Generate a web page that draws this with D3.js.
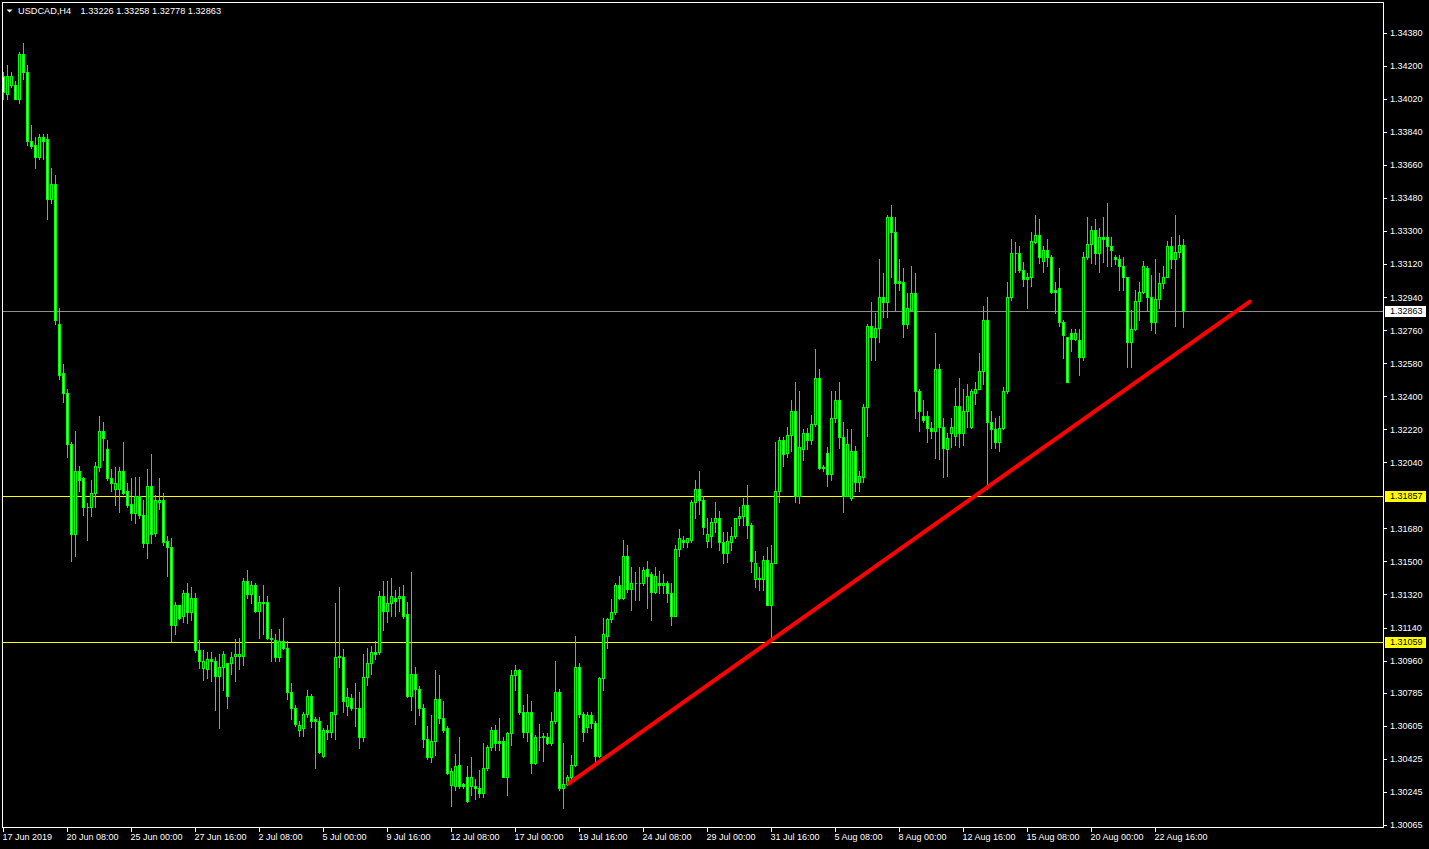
<!DOCTYPE html>
<html><head><meta charset="utf-8">
<script src="https://cdn.jsdelivr.net/npm/d3@7"></script>
<style>
html,body{margin:0;padding:0;background:#000;overflow:hidden}
svg{display:block}
</style>
</head><body>
<svg id="chart" width="1429" height="849"></svg>
<script>
const symbolName = "USDCAD,H4";

const open = [1.34142,1.34049,1.34098,1.34098,1.34022,1.34262,1.34169,1.33793,1.33771,1.33701,1.33815,1.33799,1.33477,1.33554,1.32796,1.32524,1.32420,1.32142,1.31652,1.31995,
1.31952,1.31799,1.31799,1.31875,1.32017,1.32213,1.32110,1.31957,1.31897,1.31897,1.31995,1.31881,1.31815,1.31766,1.31854,1.31755,1.31598,1.31913,1.31657,1.31826,
1.31837,1.31614,1.31576,1.31156,1.31260,1.31200,1.31330,1.31227,1.31303,1.31020,1.30922,1.30916,1.30971,1.30960,1.30878,1.30927,1.30944,1.30944,1.30987,1.30987,
1.30987,1.31396,1.31325,1.31369,1.31232,1.31281,1.31281,1.31085,1.31074,1.30982,1.31064,1.31031,1.30791,1.30704,1.30584,1.30590,1.30671,1.30769,1.30639,1.30633,
1.30442,1.30584,1.30573,1.30671,1.30987,1.30982,1.30715,1.30758,1.30704,1.30699,1.30546,1.30873,1.30944,1.31004,1.31004,1.31314,1.31232,1.31271,1.31303,1.31303,
1.31314,1.31211,1.30769,1.30889,1.30807,1.30704,1.30535,1.30432,1.30524,1.30748,1.30649,1.30590,1.30284,1.30279,1.30393,1.30290,1.30328,1.30279,1.30279,1.30268,
1.30241,1.30377,1.30491,1.30579,1.30524,1.30524,1.30328,1.30568,1.30884,1.30911,1.30682,1.30573,1.30682,1.30404,1.30541,1.30541,1.30541,1.30513,1.30628,1.30791,
1.30263,1.30290,1.30328,1.30393,1.30927,1.30671,1.30600,1.30666,1.30622,1.30442,1.30867,1.31096,1.31189,1.31222,1.31374,1.31303,1.31527,1.31352,1.31380,1.31380,
1.31380,1.31461,1.31429,1.31336,1.31380,1.31374,1.31380,1.31330,1.31205,1.31570,1.31619,1.31608,1.31619,1.31826,1.31897,1.31832,1.31614,1.31641,1.31717,1.31739,
1.31608,1.31548,1.31608,1.31636,1.31734,1.31750,1.31810,1.31701,1.31407,1.31412,1.31407,1.31510,1.31265,1.31494,1.31881,1.32164,1.32093,1.32191,1.32317,1.31854,
1.32115,1.32202,1.32159,1.32251,1.32502,1.32011,1.32093,1.31979,1.32284,1.32382,1.32180,1.31859,1.31843,1.32099,1.31935,1.31962,1.32344,1.32780,1.32720,1.32774,
1.32943,1.32911,1.33379,1.33297,1.33030,1.33025,1.32796,1.32872,1.32965,1.32431,1.32295,1.32295,1.32229,1.32213,1.32546,1.32235,1.32115,1.32202,1.32186,1.32349,
1.32202,1.32317,1.32235,1.32420,1.32442,1.32535,1.32818,1.32262,1.32219,1.32148,1.32229,1.32426,1.32938,1.33178,1.33183,1.33090,1.33041,1.33052,1.33243,1.33281,
1.33139,1.33194,1.33156,1.32981,1.32987,1.32802,1.32720,1.32742,1.32714,1.32709,1.32616,1.33156,1.33227,1.33303,1.33178,1.33265,1.33265,1.33221,1.33156,1.33150,
1.33107,1.33047,1.32693,1.32769,1.32921,1.32970,1.33101,1.32943,1.32807,1.32932,1.33019,1.33052,1.33221,1.33150,1.33188,1.33226];

const high = [1.34169,1.34202,1.34169,1.34115,1.34273,1.34327,1.34202,1.33880,1.33810,1.33826,1.33826,1.33831,1.33641,1.33608,1.32878,1.32573,1.32437,1.32148,1.32208,1.32022,
1.31962,1.31821,1.31946,1.32044,1.32295,1.32257,1.32164,1.32001,1.32017,1.32017,1.32148,1.31930,1.31952,1.31962,1.31962,1.31837,1.32006,1.32088,1.31864,1.31957,
1.31875,1.31636,1.31625,1.31281,1.31265,1.31347,1.31380,1.31358,1.31330,1.31074,1.31020,1.31009,1.31009,1.30982,1.30993,1.31014,1.30949,1.31004,1.31080,1.31085,
1.31412,1.31456,1.31396,1.31380,1.31309,1.31374,1.31314,1.31134,1.31107,1.31134,1.31194,1.31069,1.30840,1.30720,1.30633,1.30682,1.30797,1.30780,1.30655,1.30655,
1.30590,1.30611,1.30682,1.31276,1.31363,1.31025,1.30813,1.30780,1.30835,1.30791,1.30993,1.31031,1.31042,1.31069,1.31341,1.31396,1.31396,1.31412,1.31347,1.31358,
1.31374,1.31281,1.31440,1.30927,1.30824,1.30726,1.30606,1.30666,1.30911,1.30884,1.30737,1.30606,1.30377,1.30453,1.30546,1.30295,1.30388,1.30432,1.30317,1.30366,
1.30513,1.30502,1.30600,1.30611,1.30649,1.30546,1.30573,1.30911,1.30938,1.30916,1.30720,1.30780,1.30737,1.30557,1.30617,1.30568,1.30568,1.30677,1.30955,1.30807,
1.30513,1.30339,1.30448,1.31096,1.30949,1.30677,1.30677,1.30677,1.30628,1.30873,1.31194,1.31194,1.31298,1.31380,1.31418,1.31619,1.31592,1.31467,1.31440,1.31467,
1.31467,1.31505,1.31445,1.31472,1.31450,1.31429,1.31396,1.31385,1.31587,1.31674,1.31636,1.31630,1.31837,1.31941,1.31995,1.31859,1.31739,1.31739,1.31826,1.31777,
1.31663,1.31663,1.31690,1.31739,1.31794,1.31848,1.31919,1.31712,1.31559,1.31472,1.31527,1.31576,1.31592,1.32148,1.32180,1.32180,1.32235,1.32377,1.32475,1.32431,
1.32224,1.32229,1.32300,1.32660,1.32551,1.32028,1.32126,1.32426,1.32426,1.32475,1.32262,1.32219,1.32224,1.32131,1.31990,1.32360,1.32791,1.32916,1.32856,1.33145,
1.33074,1.33385,1.33444,1.33374,1.33145,1.33101,1.32965,1.33112,1.33074,1.32437,1.32382,1.32322,1.32262,1.32747,1.32573,1.32279,1.32197,1.32279,1.32447,1.32502,
1.32442,1.32464,1.32437,1.32475,1.32638,1.32894,1.32938,1.32317,1.32279,1.32295,1.32453,1.33025,1.33259,1.33243,1.33221,1.33134,1.33074,1.33297,1.33390,1.33363,
1.33216,1.33254,1.33167,1.33025,1.33096,1.32818,1.32725,1.32769,1.32769,1.32769,1.33188,1.33374,1.33330,1.33363,1.33319,1.33379,1.33455,1.33265,1.33172,1.33167,
1.33161,1.33052,1.32872,1.32981,1.33025,1.33139,1.33112,1.33058,1.33150,1.33074,1.33112,1.33248,1.33265,1.33390,1.33281,1.33258];

const low = [1.34017,1.34022,1.34082,1.34017,1.34000,1.34126,1.33771,1.33750,1.33641,1.33690,1.33695,1.33368,1.33455,1.32791,1.32496,1.32366,1.32071,1.31505,1.31532,1.31881,
1.31755,1.31619,1.31745,1.31799,1.31990,1.32050,1.31946,1.31881,1.31810,1.31772,1.31870,1.31799,1.31728,1.31712,1.31739,1.31576,1.31521,1.31603,1.31636,1.31783,
1.31592,1.31418,1.31064,1.31102,1.31189,1.31172,1.31167,1.31183,1.31009,1.30922,1.30856,1.30867,1.30846,1.30693,1.30595,1.30797,1.30699,1.30889,1.30851,1.30916,
1.30938,1.31303,1.31271,1.31227,1.31085,1.31107,1.31080,1.30960,1.30960,1.30955,1.31025,1.30753,1.30644,1.30606,1.30551,1.30551,1.30655,1.30600,1.30377,1.30459,
1.30437,1.30535,1.30546,1.30535,1.30927,1.30677,1.30666,1.30693,1.30606,1.30486,1.30524,1.30829,1.30889,1.30971,1.30998,1.31129,1.31172,1.31205,1.31200,1.31232,
1.31194,1.30764,1.30693,1.30617,1.30666,1.30491,1.30426,1.30410,1.30448,1.30622,1.30573,1.30344,1.30170,1.30257,1.30268,1.30268,1.30192,1.30230,1.30208,1.30214,
1.30214,1.30366,1.30475,1.30475,1.30475,1.30323,1.30225,1.30502,1.30802,1.30671,1.30546,1.30519,1.30350,1.30399,1.30470,1.30415,1.30508,1.30502,1.30622,1.30257,
1.30159,1.30284,1.30312,1.30388,1.30655,1.30524,1.30573,1.30595,1.30404,1.30437,1.30802,1.31031,1.31172,1.31216,1.31298,1.31298,1.31336,1.31238,1.31292,1.31292,
1.31374,1.31249,1.31183,1.31330,1.31330,1.31330,1.31281,1.31151,1.31200,1.31527,1.31581,1.31581,1.31608,1.31734,1.31761,1.31652,1.31581,1.31581,1.31663,1.31565,
1.31494,1.31499,1.31565,1.31630,1.31701,1.31701,1.31630,1.31440,1.31358,1.31347,1.31347,1.31260,1.31074,1.31489,1.31826,1.32022,1.32071,1.32099,1.31826,1.31821,
1.32055,1.32110,1.32142,1.32240,1.32006,1.31995,1.31913,1.31946,1.32257,1.32120,1.31772,1.31854,1.31837,1.31881,1.31886,1.31935,1.32186,1.32595,1.32595,1.32693,
1.32829,1.32829,1.33047,1.32862,1.32981,1.32725,1.32774,1.32862,1.32284,1.32208,1.32257,1.32148,1.32175,1.32066,1.32060,1.31962,1.31968,1.32126,1.32137,1.32126,
1.32137,1.32235,1.32229,1.32355,1.32437,1.32464,1.31892,1.32120,1.32120,1.32104,1.32224,1.32420,1.32927,1.33079,1.33079,1.33003,1.32883,1.33003,1.33237,1.33128,
1.33079,1.33107,1.32965,1.32856,1.32780,1.32611,1.32475,1.32644,1.32709,1.32518,1.32595,1.33150,1.33128,1.33123,1.33079,1.33134,1.33107,1.33107,1.33118,1.32981,
1.32981,1.32562,1.32562,1.32763,1.32818,1.32965,1.32867,1.32763,1.32747,1.32883,1.32992,1.33047,1.33101,1.32780,1.33156,1.32778];

const close = [1.34055,1.34147,1.34142,1.34022,1.34262,1.34169,1.33788,1.33766,1.33701,1.33815,1.33793,1.33477,1.33554,1.32813,1.32513,1.32420,1.32142,1.31652,1.31995,1.31941,
1.31794,1.31794,1.31875,1.32022,1.32213,1.32175,1.31957,1.31930,1.31930,1.31995,1.31875,1.31810,1.31766,1.31854,1.31755,1.31598,1.31913,1.31647,1.31832,1.31837,
1.31608,1.31576,1.31156,1.31265,1.31194,1.31330,1.31227,1.31303,1.31020,1.30960,1.30955,1.30971,1.30960,1.30878,1.30927,1.30998,1.30769,1.30982,1.30993,1.30993,
1.31396,1.31325,1.31369,1.31232,1.31281,1.31276,1.31085,1.31080,1.30982,1.31064,1.31031,1.30791,1.30704,1.30617,1.30611,1.30671,1.30769,1.30628,1.30628,1.30464,
1.30579,1.30573,1.30677,1.30982,1.30982,1.30737,1.30764,1.30704,1.30699,1.30546,1.30873,1.30944,1.31004,1.30998,1.31314,1.31232,1.31271,1.31309,1.31287,1.31314,
1.31205,1.30769,1.30889,1.30807,1.30704,1.30535,1.30432,1.30524,1.30748,1.30649,1.30584,1.30350,1.30361,1.30388,1.30274,1.30274,1.30197,1.30328,1.30263,1.30241,
1.30377,1.30491,1.30579,1.30513,1.30513,1.30328,1.30568,1.30884,1.30911,1.30677,1.30573,1.30682,1.30404,1.30541,1.30546,1.30551,1.30513,1.30628,1.30791,1.30263,
1.30290,1.30328,1.30393,1.30927,1.30671,1.30573,1.30666,1.30622,1.30442,1.30867,1.31102,1.31189,1.31222,1.31374,1.31303,1.31527,1.31352,1.31380,1.31385,1.31385,
1.31456,1.31423,1.31336,1.31423,1.31374,1.31380,1.31330,1.31205,1.31570,1.31625,1.31608,1.31625,1.31826,1.31897,1.31832,1.31690,1.31647,1.31717,1.31739,1.31608,
1.31548,1.31614,1.31641,1.31734,1.31750,1.31810,1.31696,1.31505,1.31489,1.31407,1.31510,1.31265,1.31494,1.31881,1.32164,1.32088,1.32191,1.32317,1.31854,1.32126,
1.32202,1.32159,1.32251,1.32502,1.32011,1.32017,1.31979,1.32284,1.32382,1.32180,1.31859,1.32142,1.32099,1.31935,1.31968,1.32344,1.32780,1.32725,1.32774,1.32943,
1.32911,1.33379,1.33297,1.33019,1.33019,1.32796,1.32878,1.32965,1.32426,1.32322,1.32273,1.32229,1.32213,1.32546,1.32235,1.32120,1.32175,1.32235,1.32349,1.32202,
1.32317,1.32404,1.32426,1.32442,1.32540,1.32818,1.32262,1.32224,1.32148,1.32229,1.32426,1.32938,1.33178,1.33183,1.33090,1.33041,1.33052,1.33248,1.33281,1.33156,
1.33194,1.33156,1.32970,1.32970,1.32802,1.32731,1.32480,1.32714,1.32742,1.32616,1.33156,1.33227,1.33303,1.33178,1.33265,1.33259,1.33221,1.33194,1.33145,1.33107,
1.33047,1.32693,1.32769,1.32921,1.32970,1.33107,1.32943,1.32807,1.32932,1.33019,1.33052,1.33221,1.33150,1.33188,1.33226,1.32863];

const timeLabels = ["17 Jun 2019","20 Jun 08:00","25 Jun 00:00","27 Jun 16:00","2 Jul 08:00","5 Jul 00:00","9 Jul 16:00","12 Jul 08:00","17 Jul 00:00","19 Jul 16:00","24 Jul 08:00","29 Jul 00:00","31 Jul 16:00","5 Aug 08:00","8 Aug 00:00","12 Aug 16:00","15 Aug 08:00","20 Aug 00:00","22 Aug 16:00"];
const timeLabelBars = [0,16,32,48,64,80,96,112,128,144,160,176,192,208,224,240,256,272,288];

const priceTicks = [1.34380,1.34200,1.34020,1.33840,1.33660,1.33480,1.33300,1.33120,1.32940,1.32760,1.32580,1.32400,1.32220,1.32040,1.31680,1.31500,1.31320,1.31140,1.30960,1.30785,1.30605,1.30425,1.30245,1.30065];

const levelPrices = [1.31857, 1.31059];
const bidPrice = 1.32863;
const trendBars = [141.4, 311.7];
const trendPrices = [1.30290, 1.32916];

// ---------- layout ----------
const W = 1429, H = 849;
const frame = {left: 2.5, top: 2.5, right: 1383.5, bottom: 827.5};
const totalSlots = 345;

const svg = d3.select("#chart");
svg.append("rect").attr("width", W).attr("height", H).attr("fill", "#000");

const x = d3.scaleLinear().domain([0, totalSlots]).range([3, 3 + 4 * totalSlots]);
const y = d3.scaleLinear().domain([1.30063, 1.34380]).range([825.2, 32.8]);

svg.append("defs").append("clipPath").attr("id", "plotclip")
  .append("rect").attr("x", 3).attr("y", 3).attr("width", 1380).attr("height", 824);

const plot = svg.append("g").attr("clip-path", "url(#plotclip)");

const bars = d3.range(open.length).map(i => ({i, o: open[i], h: high[i], l: low[i], c: close[i]}));
const green = "#00ff00";

// horizontal level lines
plot.selectAll("line.level").data(levelPrices).join("line")
  .attr("class", "level")
  .attr("x1", frame.left).attr("x2", frame.right)
  .attr("y1", d => Math.round(y(d)) + 0.5).attr("y2", d => Math.round(y(d)) + 0.5)
  .attr("stroke", "#ffff00").attr("stroke-width", 1).attr("shape-rendering", "crispEdges");

plot.append("line")
  .attr("x1", frame.left).attr("x2", frame.right)
  .attr("y1", Math.round(y(bidPrice)) + 0.5).attr("y2", Math.round(y(bidPrice)) + 0.5)
  .attr("stroke", "#8f8f8f").attr("stroke-width", 1).attr("shape-rendering", "crispEdges");

// wicks
plot.selectAll("line.wick").data(bars).join("line")
  .attr("class", "wick")
  .attr("x1", d => Math.round(x(d.i)) + 0.5).attr("x2", d => Math.round(x(d.i)) + 0.5)
  .attr("y1", d => Math.round(y(Math.max(d.h, d.o, d.c))))
  .attr("y2", d => Math.round(y(Math.min(d.l, d.o, d.c))) + 1)
  .attr("stroke", green).attr("stroke-width", 1).attr("shape-rendering", "crispEdges");

// bodies
plot.selectAll("path.body").data(bars).join("path")
  .attr("class", "body")
  .attr("d", d => {
    const cx = Math.round(x(d.i)) + 0.5;
    const t = Math.round(y(Math.max(d.o, d.c))) + 0.5;
    const b = Math.round(y(Math.min(d.o, d.c))) + 0.5;
    return `M${cx - 1},${t}H${cx + 1}V${b}H${cx - 1}Z`;
  })
  .attr("fill", d => d.c > d.o ? "#000" : "#fff")
  .attr("stroke", green).attr("stroke-width", 1).attr("shape-rendering", "crispEdges");

// trend line
plot.append("line")
  .attr("x1", x(trendBars[0])).attr("y1", y(trendPrices[0]))
  .attr("x2", x(trendBars[1])).attr("y2", y(trendPrices[1]))
  .attr("stroke", "#ff0000").attr("stroke-width", 4).attr("stroke-linecap", "round");

// frame
svg.append("rect")
  .attr("x", frame.left).attr("y", frame.top)
  .attr("width", frame.right - frame.left).attr("height", frame.bottom - frame.top)
  .attr("fill", "none").attr("stroke", "#fff").attr("stroke-width", 1).attr("shape-rendering", "crispEdges");

const FONT = '"Liberation Sans", Arial, sans-serif';

// right price axis
const yAxis = d3.axisRight(y).tickValues(priceTicks).tickFormat(d3.format(".5f")).tickSize(3).tickPadding(3);
const ya = svg.append("g").attr("transform", "translate(1384,0)").call(yAxis);
ya.select(".domain").remove();
ya.attr("font-family", FONT).attr("font-size", 9);
ya.selectAll("line").attr("stroke", "#fff").attr("shape-rendering", "crispEdges");
ya.selectAll("text").attr("fill", "#fff");

// bottom time axis
const xAxis = d3.axisBottom(x).tickValues(timeLabelBars).tickFormat((d, k) => timeLabels[k]).tickSize(4).tickPadding(2);
const xa = svg.append("g").attr("transform", "translate(0,828)").call(xAxis);
xa.select(".domain").remove();
xa.attr("font-family", FONT).attr("font-size", 9);
xa.selectAll("line").attr("stroke", "#fff").attr("shape-rendering", "crispEdges");
xa.selectAll("text").attr("fill", "#fff").attr("text-anchor", "start").attr("x", -1);

// price tags
const tags = [{v: bidPrice, bg: "#ffffff"}].concat(levelPrices.map(v => ({v, bg: "#ffff00"})));
const tg = svg.append("g").attr("font-family", FONT).attr("font-size", 9);
tags.forEach(t => {
  const yy = Math.round(y(t.v));
  tg.append("rect").attr("x", 1385).attr("y", yy - 5).attr("width", 41).attr("height", 11).attr("fill", t.bg);
  tg.append("text").attr("x", 1390).attr("y", yy + 0.5).attr("dy", "0.32em").attr("fill", "#000").text(d3.format(".5f")(t.v));
});

// title
const last = bars[bars.length - 1];
svg.append("path").attr("d", "M6.5,9.5L12.5,9.5L9.5,12.5Z").attr("fill", "#fff");
const fmt = d3.format(".5f");
svg.append("text").attr("x", 18).attr("y", 14).attr("font-family", FONT).attr("font-size", 9.2).attr("fill", "#fff").text(symbolName);
svg.append("text").attr("x", 80.5).attr("y", 14).attr("font-family", FONT).attr("font-size", 9.2).attr("fill", "#fff")
  .text([last.o, last.h, last.l, last.c].map(fmt).join(" "));
</script>
</body></html>
